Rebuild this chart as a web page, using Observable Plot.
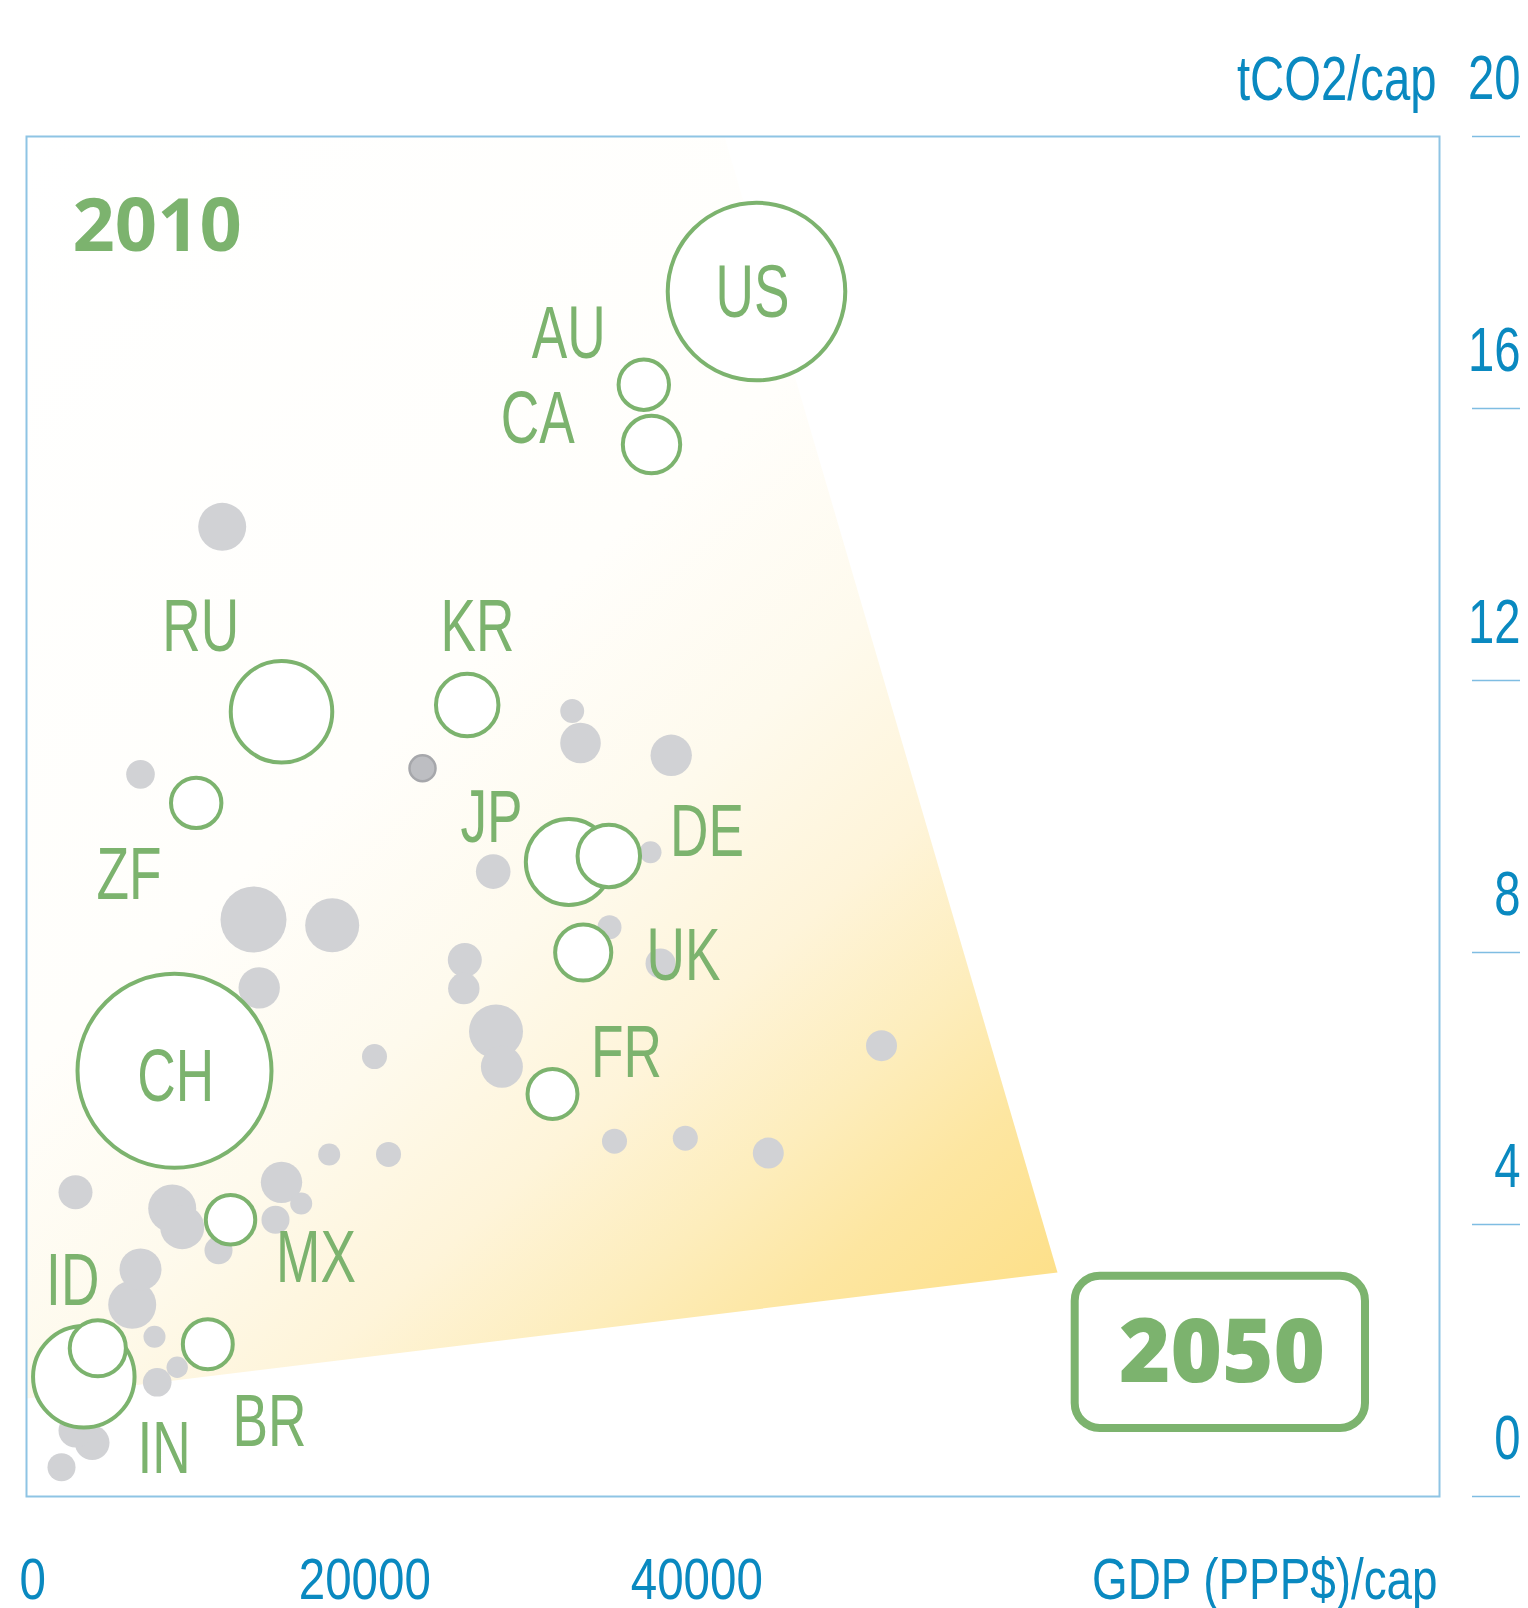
<!DOCTYPE html>
<html>
<head>
<meta charset="utf-8">
<script src="https://cdn.jsdelivr.net/npm/d3@7"></script>
<script src="https://cdn.jsdelivr.net/npm/@observablehq/plot@0.6"></script>
<style>
  html, body { margin: 0; padding: 0; background: #ffffff; }
  #chart svg { display: block; }
</style>
</head>
<body>
<div id="chart"></div>
<script>
// ---------- DATA ----------
// Highlighted countries: GDP (PPP$) per capita, tCO2 per capita, total emissions (Gt, circle area)
const countries         = ["US", "AU", "CA", "RU", "KR", "ZF", "JP", "DE", "UK", "FR", "CH", "MX", "ID", "IN", "BR"];
const countryGdp        = [43596, 36807, 37271, 14982, 26169, 9843, 32289, 34699, 33157, 31307, 8536, 11910, 3916, 3072, 10542];
const countryCo2        = [17.72, 16.35, 15.47, 11.54, 11.64, 10.20, 9.33, 9.42, 8.00, 5.92, 6.26, 4.07, 2.18, 1.76, 2.24];
const countryEmissions  = [6.70, 0.54, 0.70, 2.19, 0.83, 0.54, 1.57, 0.83, 0.67, 0.53, 8.00, 0.52, 0.67, 2.19, 0.53];
// Label anchor (centre, baseline) for each highlighted country, in data units
const labelGdp          = [43355, 32289, 30416, 10120, 26789, 5795, 27633, 40614, 39199, 35765, 8614, 17060, 2404, 7904, 14259];
const labelCo2          = [17.34, 16.75, 15.50, 12.43, 12.43, 8.78, 9.62, 9.42, 7.59, 6.17, 5.82, 3.16, 2.81, 0.34, 0.75];

// Other (unlabelled) countries
const otherGdp = [11410, 6488, 32494, 32994, 38458, 27735, 37211, 13295, 18036, 13639, 34741, 26024, 25964,
                  37813, 27904, 28259, 20584, 51127, 17855, 21428, 35042, 39307, 44307, 2572, 14982, 16169,
                  8398, 9000, 14620, 11187, 6488, 5988, 7331, 8699, 7494, 2572, 3578, 1729];
const otherCo2 = [14.26, 10.62, 11.55, 11.08, 10.90, 9.19, 9.475, 8.485, 8.40, 7.48, 8.37, 7.89, 7.47,
                  7.84, 6.84, 6.32, 6.47, 6.63, 5.03, 5.03, 5.225, 5.27, 5.05, 4.475, 4.62, 4.31,
                  4.235, 3.96, 4.07, 3.62, 3.34, 2.82, 2.35, 1.90, 1.68, 0.97, 0.79, 0.43];
const otherEmissions = [0.49, 0.174, 0.122, 0.35, 0.364, 0.255, 0.103, 0.926, 0.62, 0.364, 0.122, 0.246, 0.21,
                        0.191, 0.62, 0.375, 0.133, 0.204, 0.103, 0.133, 0.133, 0.133, 0.204, 0.246, 0.364, 0.103,
                        0.49, 0.412, 0.167, 0.167, 0.375, 0.49, 0.103, 0.097, 0.174, 0.246, 0.255, 0.167];
// One darker, outlined dot
const markedGdp = [23476];
const markedCo2 = [10.71];
const markedEmissions = [0.144];

// Shaded pathway cone (polygon vertices)
const coneGdp = [-380, 41669, 61729, -380];
const coneCo2 = [20, 20, 3.294, 1.441];

// Year annotations
const yearText = ["2010", "2050"];
const yearGdp  = [2392, 71639];
const yearCo2  = [18.31, 1.68];
// Box around 2050
const boxGdp = [62795, 80283];
const boxCo2 = [1.0, 3.24];

// Axis ticks
const yTicks = [0, 4, 8, 12, 16, 20];
const xTicks = [0, 20000, 40000];
const xTitle = "GDP (PPP$)/cap";
const yTitle = "tCO2/cap";

// ---------- BUILD TABLES ----------
const highlighted = countries.map((c, i) => ({code: c, gdp: countryGdp[i], co2: countryCo2[i], em: countryEmissions[i]}));
const labels = countries.map((c, i) => ({code: c, gdp: labelGdp[i], co2: labelCo2[i]}));
const others = otherGdp.map((g, i) => ({gdp: g, co2: otherCo2[i], em: otherEmissions[i]}));
const marked = markedGdp.map((g, i) => ({gdp: g, co2: markedCo2[i], em: markedEmissions[i]}));
const cone = coneGdp.map((g, i) => ({gdp: g, co2: coneCo2[i]}));
const years = yearText.map((t, i) => ({text: t, gdp: yearGdp[i], co2: yearCo2[i]}));
const box = [{x1: boxGdp[0], x2: boxGdp[1], y1: boxCo2[0], y2: boxCo2[1]}];

const GREEN = "#7cb36e";
const BLUE = "#0a89c0";
const FRAME = "#8ec4e4";
const GREY = "#d1d2d5";

const plot = Plot.plot({
  width: 1528,
  height: 1608,
  marginLeft: 26,
  marginRight: 89,
  marginTop: 136,
  marginBottom: 112,
  x: {domain: [-380, 84741], axis: null},
  y: {domain: [0, 20], axis: null},
  r: {type: "sqrt", domain: [0, 8], range: [0, 97]},
  style: {background: "#ffffff", overflow: "visible"},
  marks: [
    Plot.line(cone, {x: "gdp", y: "co2", fill: "url(#coneGrad)", stroke: "none", curve: "linear"}),
    Plot.frame({stroke: FRAME, strokeWidth: 2}),
    Plot.ruleY(yTicks, {y: d => d, stroke: "#7fbde2", strokeWidth: 1.5, insetLeft: 1446, insetRight: -81}),
    Plot.text(yTicks, {y: d => d, text: d => String(d), frameAnchor: "right", textAnchor: "end", lineAnchor: "bottom",
      dx: 81, dy: -38, fontSize: 63, fill: BLUE, fontFamily: "Liberation Sans", ariaDescription: "cond-y"}),
    Plot.text([yTitle], {text: d => d, frameAnchor: "top-right", textAnchor: "end", lineAnchor: "bottom",
      dx: -3, dy: -37, fontSize: 63, fill: BLUE, fontFamily: "Liberation Sans", ariaDescription: "cond-y"}),
    Plot.text(xTicks, {x: d => d, text: d => String(d), frameAnchor: "bottom", textAnchor: "middle", lineAnchor: "bottom",
      dy: 102, fontSize: 58, fill: BLUE, fontFamily: "Liberation Sans", ariaDescription: "cond-x"}),
    Plot.text([xTitle], {text: d => d, frameAnchor: "bottom-right", textAnchor: "end", lineAnchor: "bottom",
      dx: -2, dy: 102, fontSize: 58, fill: BLUE, fontFamily: "Liberation Sans", ariaDescription: "cond-xt"}),
    Plot.dot(others, {x: "gdp", y: "co2", r: "em", fill: GREY, stroke: "none"}),
    Plot.dot(marked, {x: "gdp", y: "co2", r: "em", fill: "#bdbec2", stroke: "#a6a7ab", strokeWidth: 2.5}),
    Plot.dot(highlighted, {x: "gdp", y: "co2", r: "em", fill: "#ffffff", stroke: GREEN, strokeWidth: 4}),
    Plot.text(labels, {x: "gdp", y: "co2", text: "code", textAnchor: "middle", lineAnchor: "bottom",
      fontSize: 75, fill: GREEN, fontFamily: "Liberation Sans", ariaDescription: "cond-label"}),
    Plot.text(years.slice(0, 1), {x: "gdp", y: "co2", text: "text", textAnchor: "start", lineAnchor: "bottom",
      fontSize: 74, fontWeight: 700, fill: GREEN, fontFamily: "Open Sans"}),
    Plot.rect(box, {x1: "x1", x2: "x2", y1: "y1", y2: "y2", rx: 25, fill: "none", stroke: GREEN, strokeWidth: 8}),
    Plot.text(years.slice(1), {x: "gdp", y: "co2", text: "text", textAnchor: "middle", lineAnchor: "bottom",
      fontSize: 88, fontWeight: 800, fill: GREEN, fontFamily: "Open Sans"})
  ]
});

// gradient definition for the cone, placed from its top-left to its right-hand vertex
const xs = plot.scale("x"), ys = plot.scale("y");
const defs = d3.select(plot).insert("defs", ":first-child");
const grad = defs.append("linearGradient")
  .attr("id", "coneGrad")
  .attr("gradientUnits", "userSpaceOnUse")
  .attr("x1", xs.apply(coneGdp[0])).attr("y1", ys.apply(coneCo2[0]))
  .attr("x2", xs.apply(coneGdp[2])).attr("y2", ys.apply(coneCo2[2]));
[[0, "#ffffff"], [0.45, "#fffefb"], [0.6, "#fefaed"], [0.72, "#fef4d9"], [0.82, "#fdedbc"], [0.9, "#fde6a1"], [1, "#fde08a"]]
  .forEach(([o, c]) => grad.append("stop").attr("offset", o).attr("stop-color", c));

// condensed lettering: squeeze the text horizontally around its anchor
function condense(desc, k) {
  plot.querySelectorAll(`[aria-description="${desc}"] text`).forEach(t => {
    let tr = t.getAttribute("transform") || "";
    const x = t.getAttribute("x"), y = t.getAttribute("y");
    if (x != null || y != null) {
      tr += ` translate(${x || 0},${y || 0})`;
      t.removeAttribute("x"); t.removeAttribute("y");
    }
    t.setAttribute("transform", tr + ` scale(${k},1)`);
  });
}
condense("cond-y", 0.75);
condense("cond-x", 0.82);
condense("cond-xt", 0.79);
condense("cond-label", 0.71);

document.getElementById("chart").appendChild(plot);
</script>
</body>
</html>
